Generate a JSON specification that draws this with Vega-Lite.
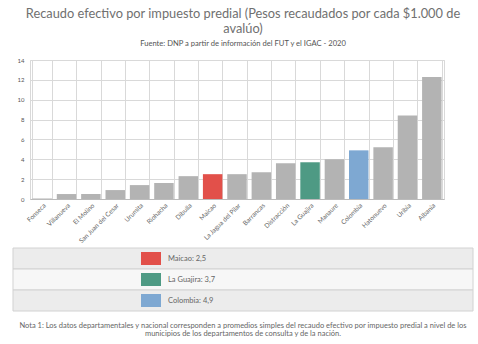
{
  "$schema": "https://vega.github.io/schema/vega-lite/v6.json",
  "background": "white",
  "padding": {"left": 12, "top": 8, "right": 6, "bottom": 4},
  "title": {
    "text": ["Recaudo efectivo por impuesto predial (Pesos recaudados por cada $1.000 de", "avalúo)"],
    "subtitle": "Fuente: DNP a partir de información del FUT y el IGAC - 2020",
    "font": "Lato", "fontSize": 12.8, "fontWeight": "normal", "color": "#707070", "lineHeight": 15,
    "subtitleFont": "Lato", "subtitleFontSize": 7.6, "subtitleColor": "#555", "subtitlePadding": 4,
    "anchor": "middle", "offset": 9
  },
  "datasets": {
    "recaudo": [
      {"nombre": "Fonseca", "valor": 0.05},
      {"nombre": "Villanueva", "valor": 0.5},
      {"nombre": "El Molino", "valor": 0.5},
      {"nombre": "San Juan del Cesar", "valor": 0.9},
      {"nombre": "Urumita", "valor": 1.4},
      {"nombre": "Riohacha", "valor": 1.6},
      {"nombre": "Dibulla", "valor": 2.3},
      {"nombre": "Maicao", "valor": 2.5},
      {"nombre": "La Jagua del Pilar", "valor": 2.5},
      {"nombre": "Barrancas", "valor": 2.7},
      {"nombre": "Distracción", "valor": 3.6},
      {"nombre": "La Guajira", "valor": 3.7},
      {"nombre": "Manaure", "valor": 4.0},
      {"nombre": "Colombia", "valor": 4.9},
      {"nombre": "Hatonuevo", "valor": 5.2},
      {"nombre": "Uribia", "valor": 8.4},
      {"nombre": "Albania", "valor": 12.3}
    ]
  },
  "spacing": 2,
  "vconcat": [
    {
      "width": 414,
      "height": 139,
      "data": {"name": "recaudo"},
      "mark": {"type": "bar"},
      "encoding": {
        "x": {
          "field": "nombre", "type": "nominal", "sort": null,
          "scale": {"paddingInner": 0.2, "paddingOuter": 0.1},
          "axis": {
            "title": null, "labelAngle": -45, "tickBand": "extent", "grid": true,
            "gridColor": "#d9d9d9", "ticks": false, "domainColor": "#bbbbbb",
            "labelFontSize": 6.5, "labelColor": "#666", "labelFont": "Lato", "labelPadding": 3
          }
        },
        "y": {
          "field": "valor", "type": "quantitative",
          "scale": {"domain": [0, 14]},
          "axis": {
            "title": null, "values": [0, 2, 4, 6, 8, 10, 12, 14], "ticks": false, "domain": false,
            "gridColor": "#d9d9d9", "labelFontSize": 6, "labelColor": "#555", "labelFont": "Lato",
            "minExtent": 17, "labelPadding": 6
          }
        },
        "color": {
          "condition": [
            {"test": "datum.nombre === 'Maicao'", "value": "#e2504a"},
            {"test": "datum.nombre === 'La Guajira'", "value": "#4e9a84"},
            {"test": "datum.nombre === 'Colombia'", "value": "#7ea8d2"}
          ],
          "value": "#b3b3b3"
        }
      }
    },
    {
      "width": 443,
      "height": 63,
      "view": {"stroke": null},
      "title": {
        "text": ["Nota 1: Los datos departamentales y nacional corresponden a promedios simples del recaudo efectivo por impuesto predial a nivel de los", "municipios de los departamentos de consulta y de la nación."],
        "orient": "bottom", "font": "Lato", "fontSize": 7.5, "fontWeight": "normal", "color": "#666",
        "anchor": "middle", "frame": "bounds", "offset": 10, "lineHeight": 8.5
      },
      "data": {"name": "recaudo"},
      "transform": [
        {"filter": "indexof(['Maicao','La Guajira','Colombia'], datum.nombre) >= 0"},
        {"calculate": "datum.nombre + ':  ' + replace(format(datum.valor, '.1f'), '.', ',')", "as": "etiqueta"}
      ],
      "encoding": {
        "y": {
          "field": "nombre", "type": "nominal", "sort": ["Maicao", "La Guajira", "Colombia"],
          "scale": {"paddingInner": 0, "paddingOuter": 0}, "axis": null
        }
      },
      "layer": [
        {
          "mark": {"type": "rect", "stroke": "#d2d2d2", "strokeWidth": 1, "clip": false},
          "encoding": {
            "x": {"datum": -0.0384, "type": "quantitative", "scale": {"domain": [0, 1]}, "axis": null},
            "x2": {"datum": 1},
            "fill": {
              "condition": {"test": "datum.nombre === 'La Guajira'", "value": "#f7f7f7"},
              "value": "#ececec"
            }
          }
        },
        {
          "mark": {"type": "bar", "height": {"band": 0.62}},
          "encoding": {
            "x": {"datum": 0.2506, "type": "quantitative"},
            "x2": {"datum": 0.2957},
            "color": {
              "condition": [
                {"test": "datum.nombre === 'Maicao'", "value": "#e2504a"},
                {"test": "datum.nombre === 'La Guajira'", "value": "#4e9a84"},
                {"test": "datum.nombre === 'Colombia'", "value": "#7ea8d2"}
              ],
              "value": "#b3b3b3"
            }
          }
        },
        {
          "mark": {"type": "text", "align": "left", "baseline": "middle", "font": "Lato", "fontSize": 7.5, "color": "#666"},
          "encoding": {
            "x": {"datum": 0.3115, "type": "quantitative"},
            "text": {"field": "etiqueta"}
          }
        }
      ]
    }
  ],
  "config": {
    "font": "Lato",
    "view": {"stroke": "#d9d9d9"}
  }
}
